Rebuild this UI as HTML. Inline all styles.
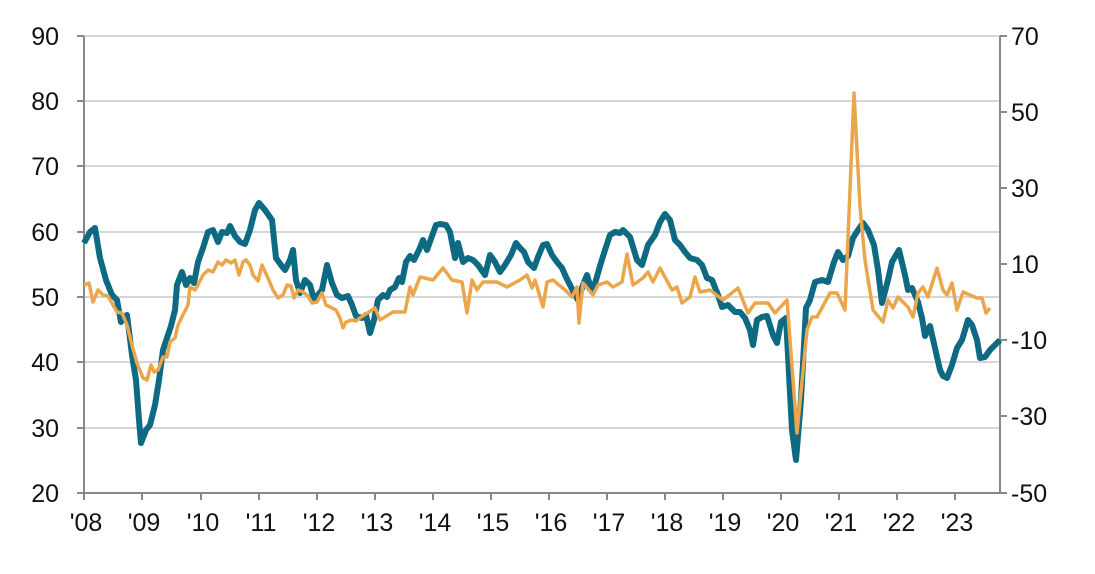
<!DOCTYPE html>
<html><head><meta charset="utf-8"><style>
body{margin:0;background:#fff;}
svg text{font-family:"Liberation Sans",Arial,sans-serif;font-size:25px;fill:#111;}
</style></head><body>
<svg width="1095" height="569" viewBox="0 0 1095 569" xmlns="http://www.w3.org/2000/svg">
<g stroke="#d6d6d6" stroke-width="2">
<line x1="84" y1="36" x2="1000" y2="36"/><line x1="84" y1="101" x2="1000" y2="101"/>
<line x1="84" y1="166" x2="1000" y2="166"/><line x1="84" y1="232" x2="1000" y2="232"/>
<line x1="84" y1="297" x2="1000" y2="297"/><line x1="84" y1="362" x2="1000" y2="362"/>
<line x1="84" y1="428" x2="1000" y2="428"/>
</g>
<g stroke="#888" stroke-width="2">
<line x1="84" y1="36" x2="84" y2="494"/><line x1="1000" y1="36" x2="1000" y2="494"/>
<line x1="84" y1="493" x2="1000" y2="493"/>
<line x1="77" y1="36" x2="84" y2="36"/><line x1="77" y1="101" x2="84" y2="101"/><line x1="77" y1="166" x2="84" y2="166"/><line x1="77" y1="232" x2="84" y2="232"/><line x1="77" y1="297" x2="84" y2="297"/><line x1="77" y1="362" x2="84" y2="362"/><line x1="77" y1="428" x2="84" y2="428"/><line x1="77" y1="493" x2="84" y2="493"/>
<line x1="1000" y1="36" x2="1007" y2="36"/><line x1="1000" y1="112" x2="1007" y2="112"/><line x1="1000" y1="188" x2="1007" y2="188"/><line x1="1000" y1="264" x2="1007" y2="264"/><line x1="1000" y1="340" x2="1007" y2="340"/><line x1="1000" y1="416" x2="1007" y2="416"/><line x1="1000" y1="493" x2="1007" y2="493"/>
<line x1="84" y1="493" x2="84" y2="500"/><line x1="142" y1="493" x2="142" y2="500"/><line x1="201" y1="493" x2="201" y2="500"/><line x1="259" y1="493" x2="259" y2="500"/><line x1="317" y1="493" x2="317" y2="500"/><line x1="375" y1="493" x2="375" y2="500"/><line x1="433" y1="493" x2="433" y2="500"/><line x1="491" y1="493" x2="491" y2="500"/><line x1="549" y1="493" x2="549" y2="500"/><line x1="607" y1="493" x2="607" y2="500"/><line x1="665" y1="493" x2="665" y2="500"/><line x1="723" y1="493" x2="723" y2="500"/><line x1="781" y1="493" x2="781" y2="500"/><line x1="839" y1="493" x2="839" y2="500"/><line x1="897" y1="493" x2="897" y2="500"/><line x1="955" y1="493" x2="955" y2="500"/>
</g>
<polyline fill="none" stroke="#0e6a82" stroke-width="6" stroke-linejoin="round" points="84,243 90,232 95,228 100,258 106,280 112,295 117,300 121,322 127,315 132,355 136,380 139,420 141,443 146,430 150,425 155,405 159,380 163,350 167,338 171,326 175,310 177,285 182,272 186,285 190,278 194,283 198,262 203,248 208,232 213,230 218,242 222,232 227,233 230,226 235,236 240,242 245,244 250,230 255,210 259,203 265,210 272,220 276,258 281,265 285,270 290,260 293,250 296,280 300,293 305,280 310,285 314,300 317,296 322,290 327,265 332,283 337,295 342,298 348,296 352,305 356,316 362,318 366,315 370,333 374,320 378,300 383,295 387,297 390,290 395,287 399,278 402,282 406,262 410,256 414,260 419,250 423,240 427,250 432,236 436,225 440,224 446,225 450,232 455,258 458,243 463,262 468,258 473,260 478,265 485,275 490,255 495,262 500,272 505,265 511,255 516,243 520,248 524,252 528,262 534,268 538,257 543,245 547,244 552,255 557,262 562,268 566,277 570,285 574,293 578,300 583,285 587,275 592,292 596,280 600,266 605,250 610,235 615,232 620,233 623,230 630,237 637,260 642,265 648,245 655,235 660,222 665,214 670,220 675,240 680,245 685,252 690,258 697,260 702,265 707,278 712,280 718,295 722,307 728,305 735,312 740,312 745,318 750,330 753,345 757,320 762,317 767,316 773,335 777,343 781,322 786,318 792,430 796,460 801,400 806,308 810,300 815,282 822,280 828,282 834,262 838,252 843,260 848,256 853,238 858,230 863,223 868,230 874,245 878,270 882,303 888,280 892,262 899,250 905,275 908,290 912,288 918,302 922,318 925,336 930,326 935,348 940,370 943,376 947,378 952,365 957,348 962,340 968,320 972,325 977,340 980,358 985,357 990,350 1000,340"/>
<polyline fill="none" stroke="#eba64c" stroke-width="3.5" stroke-linejoin="round" points="84,285 89,283 93,302 98,290 103,295 108,296 113,305 117,312 122,313 127,325 132,345 137,363 143,378 147,380 151,365 154,372 158,370 163,357 167,357 170,342 175,338 178,325 183,315 188,305 190,287 195,290 198,285 203,275 208,270 213,272 218,262 222,265 226,260 231,263 235,260 239,275 243,262 246,260 250,265 253,275 258,281 262,265 268,278 273,290 278,298 283,295 287,285 291,286 294,298 298,290 303,292 308,296 312,303 317,302 322,293 326,305 332,308 336,310 340,318 343,328 346,322 352,320 356,321 360,318 364,315 369,312 375,308 380,320 393,312 405,312 410,287 413,295 420,277 433,280 443,268 452,280 462,282 467,313 472,280 477,290 483,282 497,282 507,287 520,280 527,275 532,288 535,280 543,307 547,282 553,280 565,290 572,297 577,287 579,323 583,283 593,295 598,285 607,282 613,287 622,282 627,254 633,285 643,278 648,272 653,282 660,268 672,290 677,287 682,303 690,297 695,277 700,292 710,290 723,300 738,288 748,313 755,303 768,303 775,313 787,300 797,433 807,330 812,317 817,317 830,293 837,293 845,310 854,93 860,207 865,260 873,310 883,322 888,300 893,308 898,297 908,307 913,317 918,293 923,287 928,297 937,268 943,290 947,295 952,283 957,310 963,292 977,298 982,298 986,313 990,308"/>
<g text-anchor="end">
<text x="59" y="45">90</text><text x="59" y="110">80</text><text x="59" y="175">70</text><text x="59" y="241">60</text><text x="59" y="306">50</text><text x="59" y="371">40</text><text x="59" y="437">30</text><text x="59" y="502">20</text>
</g>
<g text-anchor="start">
<text x="1011" y="45">70</text><text x="1011" y="121">50</text><text x="1011" y="197">30</text><text x="1011" y="273">10</text><text x="1011" y="349">-10</text><text x="1011" y="425">-30</text><text x="1011" y="502">-50</text>
</g>
<g text-anchor="middle">
<text x="86" y="531">'08</text><text x="144" y="531">'09</text><text x="203" y="531">'10</text><text x="261" y="531">'11</text><text x="319" y="531">'12</text><text x="377" y="531">'13</text><text x="435" y="531">'14</text><text x="493" y="531">'15</text><text x="551" y="531">'16</text><text x="609" y="531">'17</text><text x="667" y="531">'18</text><text x="725" y="531">'19</text><text x="783" y="531">'20</text><text x="841" y="531">'21</text><text x="899" y="531">'22</text><text x="957" y="531">'23</text>
</g>
</svg>
</body></html>
